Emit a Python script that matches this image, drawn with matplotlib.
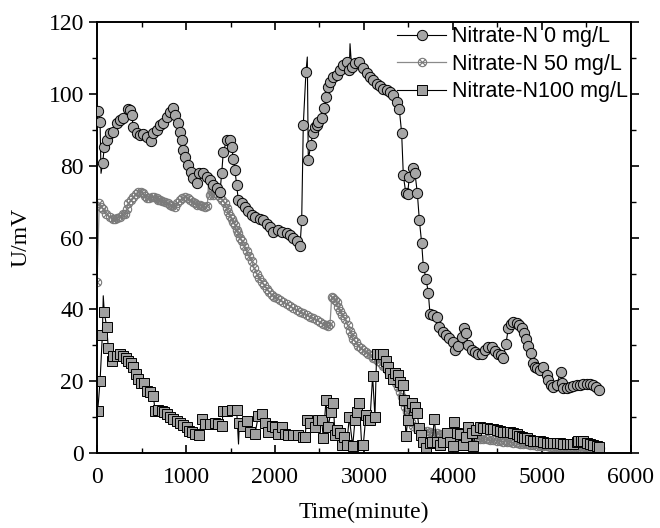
import numpy as np
import matplotlib.pyplot as plt
from matplotlib.path import Path
from matplotlib.ticker import MultipleLocator

# ---- Nitrate-N 0 mg/L ----
t0 = [8, 34, 64, 82, 109, 146, 183, 221, 258, 296, 345, 370, 390, 408, 446, 483, 520,
      558, 603, 633, 670, 708, 745, 783, 820, 850, 876, 914, 932, 951, 970, 989, 1026,
      1052, 1082, 1120, 1150, 1194, 1232, 1270, 1307, 1345, 1382, 1401, 1419, 1457,
      1494, 1513, 1532, 1550, 1569, 1588, 1625, 1663, 1700, 1738, 1775, 1831, 1869,
      1906, 1944, 1981, 2037, 2075, 2131, 2169, 2206, 2243, 2281, 2300, 2318, 2348,
      2374, 2401, 2423, 2449, 2470, 2487, 2524, 2551, 2573, 2599, 2618, 2655, 2693,
      2730, 2768, 2805, 2835, 2861, 2899, 2948, 2992, 3030, 3067, 3105, 3142, 3180,
      3217, 3255, 3292, 3330, 3367, 3397, 3423, 3442, 3470, 3490, 3510, 3547, 3573,
      3599, 3622, 3648, 3667, 3697, 3723, 3742, 3779, 3817, 3846, 3884, 3921, 3959,
      3996, 4022, 4060, 4098, 4124, 4142, 4172, 4210, 4247, 4284, 4322, 4360, 4397,
      4435, 4472, 4509, 4535, 4565, 4595, 4621, 4647, 4677, 4715, 4745, 4771, 4798,
      4820, 4846, 4873, 4895, 4921, 4947, 4977, 5015, 5052, 5071, 5098, 5128, 5165,
      5210, 5221, 5240, 5277, 5315, 5352, 5390, 5427, 5465, 5502, 5540, 5577, 5607,
      5644]
u0 = [95.3, 92.2, 80.9, 85.3, 87.1, 89.0, 89.5, 91.8, 92.7, 93.2, 95.9, 95.6, 94.1,
      90.8, 89.2, 88.5, 88.9, 88.0, 86.9, 89.0, 89.9, 91.3, 91.8, 93.6, 95.0, 96.2,
      94.1, 91.8, 89.5, 87.1, 84.4, 82.5, 80.2, 78.3, 76.5, 75.3, 77.9, 78.0, 76.8,
      76.0, 74.6, 73.7, 72.8, 77.9, 83.9, 87.1, 87.1, 85.3, 82.0, 78.8, 74.6, 70.4,
      69.5, 68.6, 67.5, 66.4, 65.8, 65.3, 64.9, 63.8, 63.0, 61.6, 62.1, 61.6, 61.2,
      60.8, 60.0, 59.1, 57.6, 65.0, 91.5, 106.2, 81.6, 85.7, 89.0, 90.8, 91.5, 92.2,
      93.2, 96.0, 99.2, 102.0, 103.4, 104.8, 105.2, 106.6, 108.0, 108.9, 106.6, 107.5,
      108.5, 108.9, 107.1, 105.9, 104.8, 103.8, 102.7, 102.2, 101.5, 101.2, 100.6,
      99.7, 97.8, 95.7, 89.2, 77.4, 72.3, 72.1, 77.0, 79.5, 77.9, 72.5, 64.9, 58.5,
      51.9, 48.6, 44.5, 38.7, 38.4, 37.9, 35.2, 33.8, 32.9, 31.9, 31.0, 28.7, 29.8,
      32.4, 34.7, 33.5, 30.1, 28.7, 28.2, 27.6, 27.6, 28.7, 29.6, 29.4, 28.5, 27.7,
      27.3, 26.6, 30.3, 34.7, 35.9, 36.6, 36.3, 35.6, 34.7, 33.3, 31.7, 29.8, 27.9,
      25.1, 24.0, 23.8, 23.1, 24.0, 21.7, 20.3, 18.9, 18.5, 18.9, 22.6, 19.6, 18.0,
      18.0, 18.5, 18.7, 18.9, 19.0, 19.1, 19.1, 19.1, 18.9, 18.3, 17.5]
# line-only samples (no symbol drawn)
t0_spike = [45, 2363, 2843]
u0_spike = [77.9, 110.3, 114.0]

# ---- Nitrate-N 50 mg/L ----
t50 = [0, 25, 50, 71, 100, 146, 175, 202, 230, 258, 290, 315, 335, 352, 380, 408,
       436, 464, 490, 512, 535, 558, 585, 614, 640, 670, 690, 708, 735, 764, 792, 820,
       848, 876, 904, 932, 960, 989, 1017, 1045, 1073, 1101, 1129, 1157, 1185, 1213,
       1240, 1270, 1298, 1326, 1354, 1382, 1410, 1438, 1457, 1475, 1494, 1513, 1532,
       1551, 1569, 1588, 1607, 1626, 1654, 1682, 1710, 1738, 1766, 1794, 1822, 1850,
       1878, 1906, 1935, 1963, 1991, 2019, 2056, 2094, 2131, 2169, 2206, 2243, 2281,
       2318, 2356, 2393, 2431, 2468, 2505, 2543, 2571, 2599, 2618, 2637, 2655, 2674,
       2693, 2712, 2730, 2758, 2787, 2815, 2843, 2862, 2880, 2908, 2936, 2964, 2992,
       3020, 3048, 3076, 3105, 3133, 3161, 3189, 3217, 3245, 3273, 3302, 3330, 3358,
       3386, 3405, 3423, 3442, 3461, 3480, 3498, 3526, 3554, 3592, 3629, 3666, 3704,
       3742, 3779, 3816, 3854, 3891, 3929, 3966, 4004, 4041, 4078, 4116, 4153, 4191,
       4228, 4266, 4303, 4341, 4378, 4416, 4453, 4491, 4528, 4565, 4603, 4640, 4678,
       4715, 4752, 4790, 4827, 4865, 4902, 4940, 4977, 5015, 5052, 5090, 5127, 5165,
       5202, 5240, 5277, 5315, 5352, 5390, 5427, 5465, 5502, 5540, 5577, 5615, 5650]
u50 = [47.7, 69.5, 68.5, 68.1, 66.5, 65.8, 65.3, 65.3, 65.5, 65.8, 66.5, 66.7, 68.0,
       69.5, 70.5, 71.4, 72.2, 72.7, 72.6, 72.3, 71.5, 70.9, 71.0, 71.4, 71.2, 70.9,
       70.6, 70.4, 70.2, 70.0, 69.5, 69.0, 68.7, 68.6, 69.5, 70.4, 71.0, 71.4, 71.0,
       70.4, 70.0, 69.5, 69.2, 69.0, 68.8, 68.6, 68.8, 71.8, 72.0, 72.3, 71.9, 71.4,
       70.5, 69.5, 68.3, 67.2, 66.0, 65.3, 64.3, 63.5, 62.0, 61.2, 60.0, 59.0, 57.7,
       56.2, 54.8, 53.5, 51.5, 50.0, 48.8, 47.7, 46.7, 45.8, 44.8, 44.0, 43.5, 43.1,
       42.6, 42.1, 41.5, 40.9, 40.3, 39.8, 39.3, 38.9, 38.4, 37.9, 37.6, 37.0, 36.4,
       35.9, 35.6, 35.4, 35.9, 43.4, 43.3, 42.7, 42.0, 40.8, 39.6, 38.4, 37.3, 35.6,
       34.0, 32.8, 31.7, 30.8, 29.9, 29.3, 28.7, 28.2, 27.7, 27.2, 26.6, 26.2, 25.7,
       25.0, 24.3, 23.6, 22.9, 21.8, 20.6, 19.5, 18.3, 16.9, 15.5, 14.1, 12.7, 11.3,
       9.9, 8.7, 7.6, 6.8, 6.2, 6.1, 6.0, 5.8, 5.7, 5.5, 5.4, 5.3, 5.2, 5.0, 4.9, 4.8,
       4.7, 4.6, 4.5, 4.4, 4.3, 4.1, 4.0, 3.9, 3.8, 3.6, 3.5, 3.4, 3.3, 3.2, 3.1, 3.0,
       2.9, 2.7, 2.6, 2.5, 2.4, 2.2, 2.1, 2.0, 2.0, 1.9, 1.9, 1.8, 1.8, 1.8, 1.7, 1.7,
       1.7, 1.6, 1.6, 1.6, 1.5, 1.5, 1.5, 1.4, 1.4, 1.3, 1.3]
t50_spike = [1251]
u50_spike = [74.6]

# ---- Nitrate-N 100 mg/L ----
t100 = [8, 34, 60, 82, 109, 127, 165, 183, 221, 258, 296, 326, 352, 382, 408, 438,
        464, 491, 528, 558, 595, 633, 652, 689, 727, 753, 783, 820, 857, 895, 932, 970,
        1008, 1037, 1064, 1101, 1150, 1176, 1213, 1270, 1326, 1363, 1401, 1419, 1457,
        1513, 1569, 1600, 1644, 1682, 1719, 1775, 1813, 1850, 1888, 1925, 1963, 2000,
        2037, 2075, 2112, 2150, 2206, 2262, 2318, 2337, 2356, 2393, 2449, 2487, 2524,
        2543, 2573, 2599, 2626, 2655, 2674, 2700, 2730, 2749, 2775, 2805, 2835, 2873,
        2899, 2925, 2948, 2974, 2992, 3022, 3048, 3067, 3097, 3123, 3142, 3180, 3217,
        3247, 3273, 3292, 3322, 3348, 3386, 3405, 3442, 3449, 3472, 3491, 3536, 3573,
        3599, 3618, 3637, 3667, 3697, 3742, 3767, 3790, 3816, 3854, 3891, 3929, 3966,
        3996, 4011, 4041, 4078, 4116, 4142, 4172, 4210, 4228, 4259, 4303, 4341, 4378,
        4416, 4453, 4491, 4528, 4565, 4603, 4640, 4678, 4715, 4743, 4771, 4799, 4827,
        4865, 4902, 4940, 4977, 5015, 5052, 5090, 5127, 5165, 5202, 5240, 5277, 5315,
        5352, 5390, 5408, 5437, 5465, 5502, 5540, 5577, 5615, 5644]
u100 = [11.8, 20.0, 32.8, 39.2, 35.0, 29.2, 25.7, 27.1, 27.1, 27.6, 27.1, 26.6, 25.7,
        25.0, 23.9, 22.0, 20.6, 19.4, 19.4, 17.3, 16.9, 16.0, 11.8, 12.0, 11.8, 11.3,
        10.9, 10.1, 9.5, 9.0, 8.5, 7.9, 7.2, 6.2, 5.8, 5.3, 5.1, 9.5, 8.1, 8.1, 8.3,
        8.1, 7.6, 11.8, 11.8, 12.0, 12.0, 8.5, 7.6, 9.0, 5.8, 5.3, 10.4, 10.9, 8.3,
        5.8, 7.6, 7.2, 5.4, 7.2, 5.3, 5.1, 5.1, 5.1, 4.6, 4.6, 9.2, 8.3, 7.3, 9.2, 9.2,
        4.1, 14.8, 7.3, 11.5, 13.8, 5.0, 6.4, 5.5, 2.2, 4.6, 2.2, 9.9, 1.9, 9.2, 11.5,
        13.8, 2.2, 2.2, 10.6, 9.2, 9.2, 21.4, 10.1, 27.7, 27.7, 27.7, 25.7, 24.0, 22.2,
        20.5, 22.2, 21.7, 19.9, 18.9, 14.8, 4.7, 9.2, 13.8, 12.9, 11.2, 6.9, 5.0, 3.2,
        1.3, 2.7, 3.2, 9.4, 3.2, 2.2, 3.2, 5.5, 3.2, 1.9, 8.7, 5.5, 5.2, 2.2, 4.4, 7.3,
        5.5, 1.9, 6.4, 7.3, 7.0, 6.9, 6.6, 6.6, 6.4, 6.0, 5.8, 5.8, 5.8, 5.5, 5.3, 4.8,
        4.4, 4.2, 4.1, 3.7, 3.4, 3.3, 3.3, 3.0, 2.8, 2.7, 2.7, 2.7, 2.7, 2.6, 2.5, 2.5,
        2.6, 3.2, 3.4, 3.3, 3.3, 2.8, 2.5, 2.2, 2.0, 1.8]
t100_spike = [70, 1590]
u100_spike = [43.8, 2.5]

LABELS = ["Nitrate-N 0 mg/L", "Nitrate-N 50 mg/L", "Nitrate-N100 mg/L"]


def merge(t, u, ts, us):
    tt = np.concatenate([t, ts])
    uu = np.concatenate([u, us])
    flag = np.concatenate([np.ones(len(t), bool), np.zeros(len(ts), bool)])
    order = np.argsort(tt, kind="stable")
    return tt[order], uu[order], flag[order]


# circle with a cross inside, the "⊗" symbol
_c = 0.7071
circ_x = Path.make_compound_path(
    Path.unit_circle(),
    Path([(-_c, -_c), (_c, _c)], [Path.MOVETO, Path.LINETO]),
    Path([(-_c, _c), (_c, -_c)], [Path.MOVETO, Path.LINETO]),
)

plt.rcParams["font.family"] = ["Liberation Serif", "DejaVu Serif"]

fig = plt.figure(figsize=(6.6, 5.28), dpi=100)
ax = fig.add_axes([0.147, 0.142, 0.809, 0.816])

x, y, m = merge(t0, u0, t0_spike, u0_spike)
ax.plot(x, y, "-", color="black", lw=0.8, marker="o", markevery=list(np.where(m)[0]),
        ms=7.4, mfc="#a6a6a6", mec="black", mew=0.7, label=LABELS[0], zorder=3)

x, y, m = merge(t50, u50, t50_spike, u50_spike)
ax.plot(x, y, "-", color="#8a8a8a", lw=0.9, marker=circ_x, markevery=list(np.where(m)[0]),
        ms=6.0, mfc="none", mec="#7a7a7a", mew=0.8, label=LABELS[1], zorder=2)

x, y, m = merge(t100, u100, t100_spike, u100_spike)
ax.plot(x, y, "-", color="black", lw=0.8, marker="s", markevery=list(np.where(m)[0]),
        ms=6.5, mfc="#a0a0a0", mec="black", mew=0.7, label=LABELS[2], zorder=2)

ax.set_xlim(0, 6000)
ax.set_ylim(0, 120)
ax.xaxis.set_major_locator(MultipleLocator(1000))
ax.xaxis.set_minor_locator(MultipleLocator(500))
ax.yaxis.set_major_locator(MultipleLocator(20))
ax.yaxis.set_minor_locator(MultipleLocator(10))
ax.tick_params(axis="x", which="both", direction="in", top=True, labelsize=17, pad=10)
ax.tick_params(axis="y", which="both", direction="out", right=True, labelsize=17)
ax.tick_params(which="major", length=6, width=1.2)
ax.tick_params(which="minor", length=3.5, width=1.0)
for s in ax.spines.values():
    s.set_linewidth(1.4)

ax.set_xlabel("Time(minute)", fontsize=17, labelpad=10)
ax.set_ylabel("U/mV", fontsize=17, labelpad=12)

leg = ax.legend(loc="upper right", bbox_to_anchor=(1.018, 1.02), frameon=False,
                prop={"family": "Liberation Sans", "size": 15.5}, handlelength=2.3,
                handletextpad=0.25, labelspacing=0.3, borderaxespad=0.2)

fig.savefig("out.png", dpi=100)
